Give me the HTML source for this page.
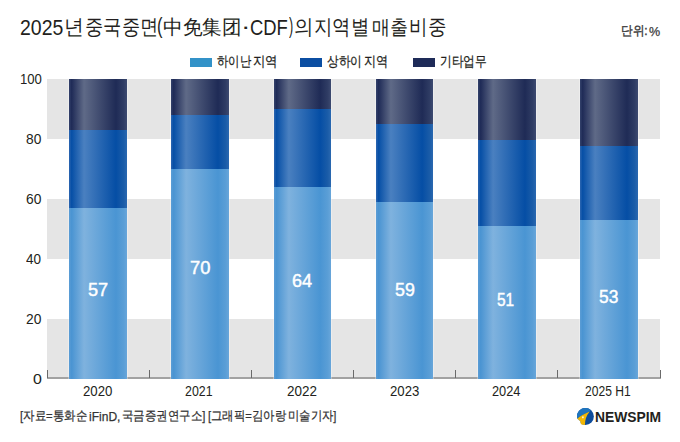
<!DOCTYPE html>
<html><head><meta charset="utf-8">
<style>
*{margin:0;padding:0;box-sizing:border-box}
html,body{width:680px;height:442px;background:#fff;overflow:hidden}
body{position:relative;font-family:"Liberation Sans",sans-serif;color:#231f20}
.t{position:absolute;white-space:pre;line-height:1;transform-origin:0 0}
.sw{position:absolute;top:58.4px;width:22px;height:8.5px}
.band{position:absolute;left:47px;width:613px;height:60px;background:#e5e5e5}
.axis{position:absolute;left:47px;width:614px;top:377px;height:2px;background:#a2a2a2}
.tick{position:absolute;top:370px;width:1px;height:8px;background:#6a6a6a}
.bar{position:absolute;width:57.5px;box-shadow:-1px 0 0 rgba(255,255,255,0.3),1px 0 0 rgba(255,255,255,0.3)}
.s1{background:linear-gradient(to right,#5c9dd5 0%,#4a94d2 4.5%,#7fb2de 26%,#4a95d3 81%,#5a9ed6 94%,#68a6da 100%)}
.s2{background:linear-gradient(to right,#2d66b0 0%,#064fa6 4.5%,#4a80c0 26%,#054ea5 81%,#1a5ca8 94%,#2a68b0 100%)}
.s3{background:linear-gradient(to right,#34426b 0%,#1f2b57 4.5%,#5f6a87 26%,#1f2b56 81%,#2f3c64 94%,#3d4a70 100%)}
</style></head><body>

<div class="sw" style="left:190px;background:#3292c8"></div>
<div class="sw" style="left:300px;background:#0b4ea2"></div>
<div class="sw" style="left:413px;background:#1e2b58"></div>
<div class="band" style="top:79px"></div>
<div class="band" style="top:199px"></div>
<div class="band" style="top:319px"></div>
<div class="axis"></div>
<div class="tick" style="left:47px"></div>
<div class="tick" style="left:149px"></div>
<div class="tick" style="left:251px"></div>
<div class="tick" style="left:353px"></div>
<div class="tick" style="left:455px"></div>
<div class="tick" style="left:557px"></div>
<div class="tick" style="left:660px"></div>
<div class="bar s3" style="left:69.20px;top:79px;height:51.00px"></div>
<div class="bar s2" style="left:69.20px;top:130.00px;height:78.00px"></div>
<div class="bar s1" style="left:69.20px;top:208.00px;height:171.00px"></div>
<div class="bar s3" style="left:171.40px;top:79px;height:36.00px"></div>
<div class="bar s2" style="left:171.40px;top:115.00px;height:54.00px"></div>
<div class="bar s1" style="left:171.40px;top:169.00px;height:210.00px"></div>
<div class="bar s3" style="left:273.60px;top:79px;height:30.00px"></div>
<div class="bar s2" style="left:273.60px;top:109.00px;height:78.00px"></div>
<div class="bar s1" style="left:273.60px;top:187.00px;height:192.00px"></div>
<div class="bar s3" style="left:375.80px;top:79px;height:45.00px"></div>
<div class="bar s2" style="left:375.80px;top:124.00px;height:78.00px"></div>
<div class="bar s1" style="left:375.80px;top:202.00px;height:177.00px"></div>
<div class="bar s3" style="left:478.00px;top:79px;height:61.20px"></div>
<div class="bar s2" style="left:478.00px;top:140.20px;height:85.80px"></div>
<div class="bar s1" style="left:478.00px;top:226.00px;height:153.00px"></div>
<div class="bar s3" style="left:580.20px;top:79px;height:66.90px"></div>
<div class="bar s2" style="left:580.20px;top:145.90px;height:74.10px"></div>
<div class="bar s1" style="left:580.20px;top:220.00px;height:159.00px"></div>
<svg style="position:absolute;left:576.8px;top:407.8px" width="17" height="17" viewBox="0 0 17 17">
  <circle cx="8.4" cy="8.5" r="8.45" fill="#0e4c9b"/>
  <path d="M0.2,10.7 Q3.5,7.3 12.7,3.4 L13.8,2.0 A8.45,8.45 0 0 0 0.2,10.7 Z" fill="#1f74bd"/>
  <path d="M0.2,10.7 Q3.5,7.3 12.7,3.4 Q7.9,9.15 7.9,16.9 L4.5,16.4 L3.6,15.8 L3.2,13.2 Z" fill="#f2b705"/>
  <path d="M0.2,10.7 L3.2,13.2 L3.6,15.8 L4.5,16.4 L3,18 L-1,18 L-1,10.7 Z" fill="#fff"/>
  <rect x="5.2" y="8.4" width="1.4" height="1.8" fill="#fff"/>
</svg>

<div class="t" style="left:20.34px;top:17.10px;font-size:22.5px;color:#231f20;transform:scaleX(0.8651)">2025</div>
<div class="t" style="left:64.00px;top:15.80px;font-size:21px;color:#231f20;transform:scaleX(0.9482)">년</div>
<div class="t" style="left:85.11px;top:16.80px;font-size:20.5px;color:#231f20;transform:scaleX(0.8702)">중국중면</div>
<div class="t" style="left:156.84px;top:15.09px;font-size:22.5px;color:#231f20;transform:scaleX(0.7326)">(</div>
<div class="t" style="left:162.91px;top:17.34px;font-size:20px;color:#231f20;transform:scaleX(0.9821)">中免集团</div>
<div class="t" style="left:240.83px;top:15.97px;font-size:22.5px;color:#231f20;transform:scaleX(1.2564)">·</div>
<div class="t" style="left:250.48px;top:17.10px;font-size:22.5px;color:#231f20;transform:scaleX(0.8191)">CDF</div>
<div class="t" style="left:289.31px;top:15.18px;font-size:22.5px;color:#231f20;transform:scaleX(0.562)">)</div>
<div class="t" style="left:293.56px;top:16.78px;font-size:20.5px;color:#231f20;transform:scaleX(0.9281)">의</div>
<div class="t" style="left:313.70px;top:16.80px;font-size:20.5px;color:#231f20;transform:scaleX(0.8778)">지역별</div>
<div class="t" style="left:371.65px;top:17.93px;font-size:19.5px;color:#231f20;transform:scaleX(0.9043)">매출</div>
<div class="t" style="left:409.39px;top:16.78px;font-size:20.5px;color:#231f20;transform:scaleX(0.8841)">비중</div>
<div class="t" style="left:620.71px;top:23.82px;font-size:13.4px;-webkit-text-stroke:0.4px #3a3a3a;color:#3a3a3a;transform:scaleX(0.8954)">단위:</div>
<div class="t" style="left:648.73px;top:24.85px;font-size:13.3px;-webkit-text-stroke:0.25px #3a3a3a;color:#3a3a3a;transform:scaleX(0.9441)">%</div>
<div class="t" style="left:216.90px;top:54.42px;font-size:14px;-webkit-text-stroke:0.25px #231f20;color:#231f20;transform:scaleX(0.8119)">하이난</div>
<div class="t" style="left:253.07px;top:54.26px;font-size:14px;-webkit-text-stroke:0.25px #231f20;color:#231f20;transform:scaleX(0.8849)">지역</div>
<div class="t" style="left:327.30px;top:54.24px;font-size:14px;-webkit-text-stroke:0.25px #231f20;color:#231f20;transform:scaleX(0.8336)">상하이</div>
<div class="t" style="left:363.70px;top:54.26px;font-size:14px;-webkit-text-stroke:0.25px #231f20;color:#231f20;transform:scaleX(0.8645)">지역</div>
<div class="t" style="left:439.92px;top:54.36px;font-size:14px;-webkit-text-stroke:0.25px #231f20;color:#231f20;transform:scaleX(0.8353)">기타업무</div>
<div class="t" style="left:20.37px;top:409.88px;font-size:12.8px;-webkit-text-stroke:0.25px #333333;color:#333333;transform:scaleX(0.8811)">[자료=통화순</div>
<div class="t" style="left:89.26px;top:409.90px;font-size:13.6px;-webkit-text-stroke:0.25px #333333;color:#333333;transform:scaleX(0.885)">iFinD,</div>
<div class="t" style="left:121.59px;top:410.08px;font-size:12.8px;-webkit-text-stroke:0.25px #333333;color:#333333;transform:scaleX(0.8815)">국금증권연구소]</div>
<div class="t" style="left:207.74px;top:409.92px;font-size:12.8px;-webkit-text-stroke:0.25px #333333;color:#333333;transform:scaleX(0.8754)">[그래픽=김아랑</div>
<div class="t" style="left:288.24px;top:410.13px;font-size:12.8px;-webkit-text-stroke:0.25px #333333;color:#333333;transform:scaleX(0.8718)">미술기자]</div>
<div class="t" style="left:595.02px;top:409.80px;font-size:14px;font-weight:bold;color:#231f20;transform:scaleX(0.9889)">NEWSPIM</div>
<div class="t" style="left:19.60px;top:71.90px;font-size:14.5px;color:#231f20;transform:scaleX(0.9047)">100</div>
<div class="t" style="left:26.15px;top:131.77px;font-size:14.5px;color:#231f20;transform:scaleX(0.9489)">80</div>
<div class="t" style="left:26.09px;top:191.77px;font-size:14.5px;color:#231f20;transform:scaleX(0.953)">60</div>
<div class="t" style="left:26.44px;top:251.77px;font-size:14.5px;color:#231f20;transform:scaleX(0.9303)">40</div>
<div class="t" style="left:26.10px;top:311.77px;font-size:14.5px;color:#231f20;transform:scaleX(0.9522)">20</div>
<div class="t" style="left:33.13px;top:371.87px;font-size:14.5px;color:#231f20;transform:scaleX(1.0962)">0</div>
<div class="t" style="left:83.13px;top:384.20px;font-size:14.5px;color:#231f20;transform:scaleX(0.9121)">2020</div>
<div class="t" style="left:185.05px;top:384.39px;font-size:14.5px;color:#231f20;transform:scaleX(0.8534)">2021</div>
<div class="t" style="left:287.42px;top:384.19px;font-size:14.5px;color:#231f20;transform:scaleX(0.9285)">2022</div>
<div class="t" style="left:389.73px;top:384.19px;font-size:14.5px;color:#231f20;transform:scaleX(0.9078)">2023</div>
<div class="t" style="left:492.45px;top:384.19px;font-size:14.5px;color:#231f20;transform:scaleX(0.8834)">2024</div>
<div class="t" style="left:585.09px;top:384.20px;font-size:14.5px;color:#231f20;transform:scaleX(0.8334)">2025 H1</div>
<div class="t" style="left:88.06px;top:280.90px;font-size:18px;-webkit-text-stroke:0.45px #ffffff;color:#ffffff;transform:scaleX(1.0046)">57</div>
<div class="t" style="left:190.09px;top:259.00px;font-size:18px;-webkit-text-stroke:0.45px #ffffff;color:#ffffff;transform:scaleX(1.0163)">70</div>
<div class="t" style="left:292.29px;top:272.08px;font-size:18px;-webkit-text-stroke:0.45px #ffffff;color:#ffffff;transform:scaleX(1.0018)">64</div>
<div class="t" style="left:394.88px;top:280.90px;font-size:18px;-webkit-text-stroke:0.45px #ffffff;color:#ffffff;transform:scaleX(0.9879)">59</div>
<div class="t" style="left:496.99px;top:291.20px;font-size:18px;-webkit-text-stroke:0.45px #ffffff;color:#ffffff;transform:scaleX(0.8576)">51</div>
<div class="t" style="left:599.30px;top:287.70px;font-size:18px;-webkit-text-stroke:0.45px #ffffff;color:#ffffff;transform:scaleX(0.9635)">53</div>
</body></html>
